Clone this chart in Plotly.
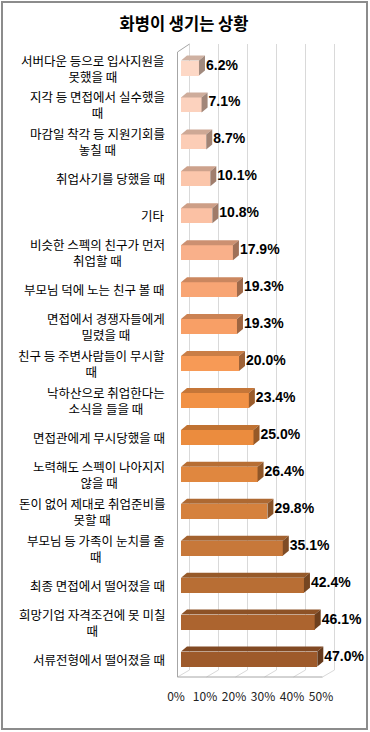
import plotly.graph_objects as go

# ---------------- data ----------------
categories = [
    "서버다운 등으로 입사지원을<br>못했을 때",
    "지각 등 면접에서 실수했을<br>때",
    "마감일 착각 등 지원기회를<br>놓칠 때",
    "취업사기를 당했을 때",
    "기타",
    "비슷한 스펙의 친구가 먼저<br>취업할 때",
    "부모님 덕에 노는 친구 볼 때",
    "면접에서 경쟁자들에게<br>밀렸을 때",
    "친구 등 주변사람들이 무시할<br>때",
    "낙하산으로 취업한다는<br>소식을 들을 때",
    "면접관에게 무시당했을 때",
    "노력해도 스펙이 나아지지<br>않을 때",
    "돈이 없어 제대로 취업준비를<br>못할 때",
    "부모님 등 가족이 눈치를 줄<br>때",
    "최종 면접에서 떨어졌을 때",
    "희망기업 자격조건에 못 미칠<br>때",
    "서류전형에서 떨어졌을 때",
]
values = [6.2, 7.1, 8.7, 10.1, 10.8, 17.9, 19.3, 19.3, 20.0,
          23.4, 25.0, 26.4, 29.8, 35.1, 42.4, 46.1, 47.0]
tick_values = [0, 10, 20, 30, 40, 50]
tick_labels = ["0%", "10%", "20%", "30%", "40%", "50%"]
title_text = "화병이 생기는 상황"

bar_colors = ["#FDD8C6", "#FCD2BE", "#FCCDB6", "#FBC6AB", "#FBC1A4",
              "#F9B08A", "#F8A574", "#F89F66", "#F79A56", "#F19145",
              "#EB8C3E", "#E0873F", "#D5813D", "#C7783A", "#B86E34",
              "#AC642F", "#9E5A2B"]

# ---------------- geometry (style) ----------------
W, H = 370, 732
L, R, T, B = 170, 25, 40, 52
PW, PH = W - L - R, H - T - B
X0PX, KX = 181.0, 2.9      # pixel of 0% on the bar plane, px per %
Y0PX, KY = 68.0, 36.94     # pixel of first category centre, px per category

def dxu(px):
    return px / KX

def dyu(px):
    return px / KY

def ypx(p):
    return (p - Y0PX) / KY

def paper_x(p):
    return (p - L) / PW

def paper_y(p):
    return (H - B - p) / PH

xrange = [(L - X0PX) / KX, (L + PW - X0PX) / KX]
yrange = [(T + PH - Y0PX) / KY, (T - Y0PX) / KY]

HALF = dyu(7.5)          # half bar thickness
SDX, SDY = dxu(6), dyu(5)  # 3-D depth of bars
BACK, FRONT = dxu(8.5), dxu(-3.5)


def shade(hexcol, f):
    h = hexcol.lstrip("#")
    r, g, b = (int(h[i:i + 2], 16) for i in (0, 2, 4))
    return "rgb(%d,%d,%d)" % (r * f, g * f, b * f)


fig = go.Figure()

ypos = list(range(len(values)))

# front faces
fig.add_trace(go.Bar(
    x=values, y=ypos, orientation="h", width=2 * HALF,
    marker=dict(color=bar_colors, line=dict(width=0)),
    hoverinfo="skip", showlegend=False,
))

# top and side faces
for i, (v, c) in enumerate(zip(values, bar_colors)):
    top = i - HALF
    bot = i + HALF
    fig.add_trace(go.Scatter(
        x=[0, v, v + SDX, SDX, 0],
        y=[top, top, top - SDY, top - SDY, top],
        mode="lines", fill="toself", fillcolor=shade(c, 0.82),
        line=dict(width=0), hoverinfo="skip", showlegend=False,
    ))
    fig.add_trace(go.Scatter(
        x=[v, v, v + SDX, v + SDX, v],
        y=[top, bot, bot - SDY, top - SDY, top],
        mode="lines", fill="toself", fillcolor=shade(c, 0.64),
        line=dict(width=0), hoverinfo="skip", showlegend=False,
    ))

# value labels
fig.add_trace(go.Scatter(
    x=[v + SDX + dxu(1) for v in values],
    y=[i - dyu(2) for i in ypos],
    text=["<b>%.1f%%</b>" % v for v in values],
    mode="text", textposition="middle right",
    textfont=dict(family="Liberation Sans, Arial", size=14, color="#000000"),
    cliponaxis=False, hoverinfo="skip", showlegend=False,
))

shapes = []
grid = dict(color="#D9D9D9", width=1)
wall = dict(color="#A6A6A6", width=1)
for t in tick_values:
    shapes.append(dict(type="line", xref="x", yref="y", layer="below",
                       x0=t + BACK, x1=t + BACK, y0=ypx(44), y1=ypx(670),
                       line=grid))
    shapes.append(dict(type="line", xref="x", yref="y", layer="below",
                       x0=t + FRONT, x1=t + BACK, y0=ypx(677), y1=ypx(670),
                       line=grid))
# floor front edge
shapes.append(dict(type="line", xref="x", yref="y", layer="below",
                   x0=tick_values[0] + FRONT, x1=tick_values[-1] + FRONT,
                   y0=ypx(677), y1=ypx(677), line=wall))
# left wall
shapes.append(dict(type="line", xref="x", yref="y", layer="below",
                   x0=FRONT, x1=FRONT, y0=ypx(52), y1=ypx(677), line=wall))
shapes.append(dict(type="line", xref="x", yref="y", layer="below",
                   x0=FRONT, x1=BACK, y0=ypx(52), y1=ypx(44), line=wall))
# outer border
shapes.append(dict(type="rect", xref="paper", yref="paper",
                   x0=paper_x(2), x1=paper_x(367), y0=paper_y(729), y1=paper_y(2),
                   line=dict(color="#8C8C8C", width=2), fillcolor="rgba(0,0,0,0)"))

annotations = []
for i, cat in enumerate(categories):
    annotations.append(dict(
        text=cat, xref="paper", yref="y", x=paper_x(166), y=i,
        xanchor="right", yanchor="middle", align="center", showarrow=False,
        borderpad=0,
        font=dict(family="Noto Sans CJK KR", size=12.5, color="#000000"),
    ))

fig.update_layout(
    width=W, height=H, autosize=False,
    margin=dict(l=L, r=R, t=T, b=B, pad=0),
    paper_bgcolor="white", plot_bgcolor="white",
    title=dict(text=title_text, x=184 / W, xanchor="center",
               y=1 - 24 / H, yanchor="middle", yref="container",
               font=dict(family="Noto Sans CJK KR", size=16.5, color="#000000",
                         weight="bold")),
    xaxis=dict(range=xrange, tickvals=tick_values, ticktext=tick_labels,
               showgrid=False, zeroline=False, showline=False, ticks="",
               ticklabelshift=-5, ticklabelstandoff=8,
               tickfont=dict(family="Noto Sans CJK KR", size=12, color="#222222"),
               fixedrange=True),
    yaxis=dict(range=yrange, showgrid=False, zeroline=False, showline=False,
               showticklabels=False, fixedrange=True),
    shapes=shapes, annotations=annotations,
    showlegend=False, bargap=0,
)

fig.write_html("out.html", config={"displayModeBar": False},
               post_script="document.body.style.margin='0';document.body.style.overflow='hidden';")
